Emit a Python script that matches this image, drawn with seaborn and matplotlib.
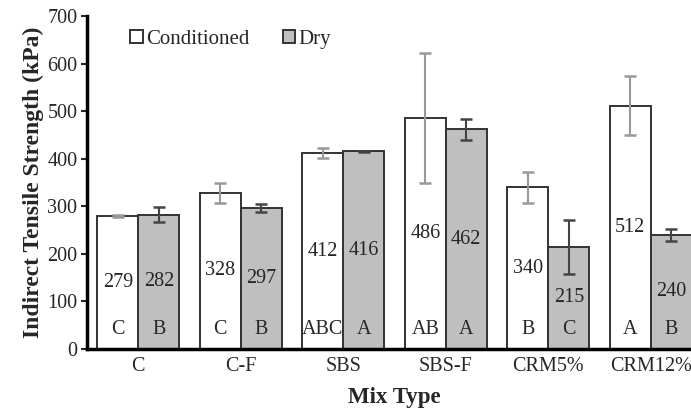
import numpy as np
import pandas as pd
import seaborn as sns
import matplotlib.pyplot as plt

mixes = ["C", "C-F", "SBS", "SBS-F", "CRM5%", "CRM12%"]
cond_vals = [279, 328, 412, 486, 340, 512]
dry_vals = [282, 297, 416, 462, 215, 240]
cond_err = [2, 21, 10, 137, 33, 62]
dry_err = [16, 8, 1, 22, 57, 13]
cond_letters = ["C", "C", "ABC", "AB", "B", "A"]
dry_letters = ["B", "B", "A", "A", "C", "B"]

df = pd.DataFrame({
    "Mix Type": mixes * 2,
    "ITS": cond_vals + dry_vals,
    "Condition": ["Conditioned"] * len(mixes) + ["Dry"] * len(mixes),
})

sns.set_style("white")
plt.rcParams["font.family"] = ["Liberation Serif", "DejaVu Serif"]

fig = plt.figure(figsize=(6.91, 4.13), dpi=100)
ax = fig.add_axes([0.126, 0.155, 0.89, 0.806])

sns.barplot(data=df, x="Mix Type", y="ITS", hue="Condition",
            palette={"Conditioned": "white", "Dry": "#bfbfbf"},
            edgecolor="#333333", linewidth=1.4, width=0.8,
            errorbar=None, ax=ax)

series = [(cond_vals, cond_err, cond_letters, "#999999"),
          (dry_vals, dry_err, dry_letters, "#444444")]
for cont, (vals, errs, letters, ec) in zip(ax.containers, series):
    xs = [p.get_x() + p.get_width() / 2 for p in cont.patches]
    ax.errorbar(xs, vals, yerr=errs, fmt="none", ecolor=ec,
                elinewidth=1.5, capsize=4, capthick=1.8)
    for x, v, l in zip(xs, vals, letters):
        ax.text(x, v / 2, str(v), ha="center", va="center", fontsize=14.5)
        ax.text(x, 40, l, ha="center", va="center", fontsize=14.5)

ax.set_ylim(0, 700)
ax.set_xlim(-0.5, 5.5)
ax.set_yticks(range(0, 701, 100))
ax.tick_params(axis="y", labelsize=14.5, length=4, width=1.5, direction="out",
               left=True, pad=3)
ax.tick_params(axis="x", labelsize=14.5, length=0, pad=6)
ax.set_ylabel("Indirect Tensile Strength (kPa)", fontsize=17, fontweight="bold",
              labelpad=2)
ax.set_xlabel("Mix Type", fontsize=16.5, fontweight="bold", labelpad=8)
for s in ["top", "right"]:
    ax.spines[s].set_visible(False)
for s in ["left", "bottom"]:
    ax.spines[s].set_color("black")
    ax.spines[s].set_linewidth(2.5)

ax.legend(loc="upper left", bbox_to_anchor=(0.04, 1.015), ncol=2, frameon=False,
          fontsize=15, handlelength=0.6, handleheight=0.6, handletextpad=0.15,
          columnspacing=1.6)

fig.savefig("out.png", dpi=100)
